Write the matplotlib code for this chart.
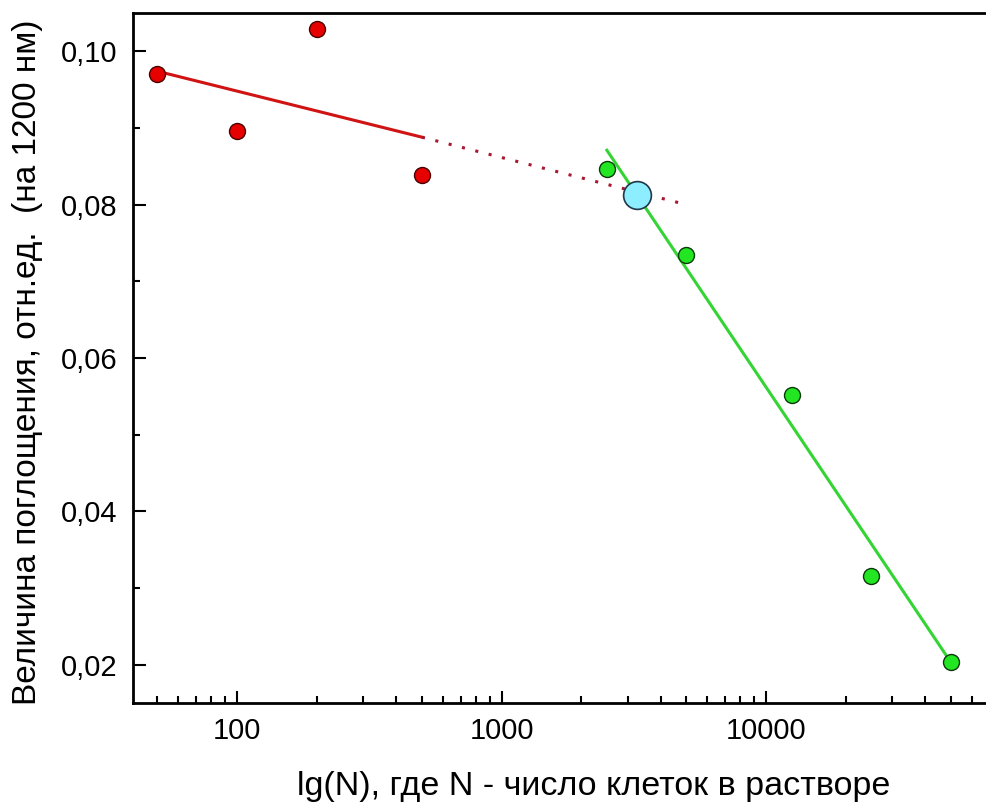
import matplotlib.pyplot as plt
from matplotlib.ticker import FixedLocator, LogLocator, NullFormatter, FixedFormatter

plt.rcParams['font.family'] = ['Liberation Sans', 'DejaVu Sans']

# measured points
n_red = [50, 100, 200, 500]
a_red = [0.0971, 0.0896, 0.1029, 0.0839]
n_green = [2500, 5000, 12500, 25000, 50000]
a_green = [0.0846, 0.0734, 0.0552, 0.0316, 0.0203]
n_cross = [3250]
a_cross = [0.0813]

# fitted lines (end points)
fit_red_n = [50, 500]
fit_red_a = [0.0974, 0.0888]
fit_red_ext_n = [500, 5000]
fit_red_ext_a = [0.0888, 0.0800]
fit_green_n = [2500, 48000]
fit_green_a = [0.0871, 0.0212]

yticks = [0.02, 0.04, 0.06, 0.08, 0.10]
ytick_labels = ['0,02', '0,04', '0,06', '0,08', '0,10']
xticks = [100, 1000, 10000]
xtick_labels = ['100', '1000', '10000']

fig = plt.figure(figsize=(9.86, 8.1), dpi=100)
ax = fig.add_axes([133/986, 107/810, 855/986, 690/810])

ax.plot(fit_red_n, fit_red_a, color='#d01414', lw=2.2, zorder=2)
ax.plot(fit_red_ext_n, fit_red_ext_a, color='#a81830', lw=2.2, ls=(0, (1, 3.5)), zorder=2)
ax.plot(fit_green_n, fit_green_a, color='#33d433', lw=2.2, zorder=2)

ax.plot(n_red, a_red, 'o', ms=11.5, mfc='#e60000', mec='#4a0000', mew=1, zorder=3)
ax.plot(n_green, a_green, 'o', ms=11.5, mfc='#22e622', mec='#0a3a0a', mew=1, zorder=3)
ax.plot(n_cross, a_cross, 'o', ms=20, mfc='#8ceeff', mec='#203848', mew=1.2, zorder=4)

ax.set_xscale('log')
ax.set_xlim(40.4, 69000)
ax.set_ylim(0.015, 0.105)

ax.xaxis.set_major_locator(FixedLocator(xticks))
ax.xaxis.set_major_formatter(FixedFormatter(xtick_labels))
ax.xaxis.set_minor_locator(LogLocator(base=10, subs=range(2, 10)))
ax.xaxis.set_minor_formatter(NullFormatter())
ax.yaxis.set_major_locator(FixedLocator(yticks))
ax.yaxis.set_major_formatter(FixedFormatter(ytick_labels))
ax.yaxis.set_minor_locator(FixedLocator([0.03, 0.05, 0.07, 0.09]))

ax.tick_params(which='major', direction='in', length=9, width=1.5, labelsize=21)
ax.tick_params(which='minor', direction='in', length=5, width=1.5)
ax.tick_params(axis='y', pad=11)
ax.tick_params(axis='x', pad=10)

for s in ['left', 'bottom', 'top']:
    ax.spines[s].set_linewidth(2)
ax.spines['right'].set_visible(False)

ax.set_xlabel('lg(N), где N - число клеток в растворе', fontsize=24.5, va='center')
ax.set_ylabel('Величина поглощения, отн.ед.  (на 1200 нм)', fontsize=24, va='center')
ax.xaxis.set_label_coords(0.5386, -0.1203)
ax.yaxis.set_label_coords(-0.1234, 0.4935)

fig.savefig('out.png', dpi=100)
